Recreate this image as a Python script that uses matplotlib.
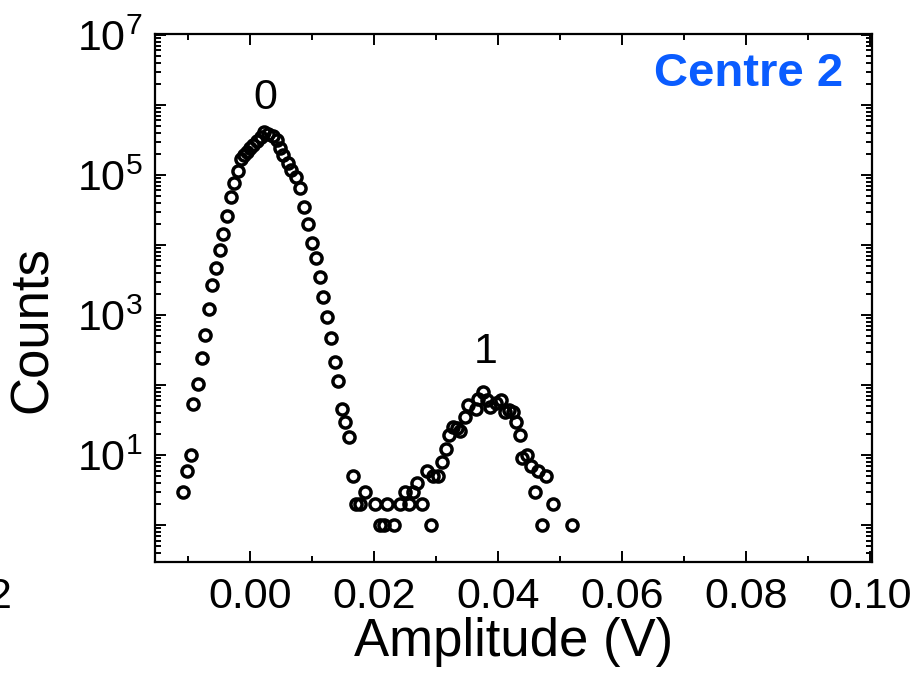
import matplotlib
matplotlib.use("Agg")
import matplotlib.pyplot as plt
import matplotlib.ticker as mticker
import numpy as np

plt.rcParams['font.family'] = ['Liberation Sans', 'DejaVu Sans']
plt.rcParams['mathtext.fontset'] = 'custom'
plt.rcParams['mathtext.rm'] = 'Liberation Sans'
plt.rcParams['mathtext.it'] = 'Liberation Sans'
plt.rcParams['mathtext.bf'] = 'Liberation Sans:bold'

# Data: amplitude (V) and counts
amplitude = [
    -0.0108, -0.0101, -0.0095, -0.0091, -0.0084, -0.0078, -0.0072, -0.0066,
    -0.0061, -0.0054, -0.0048, -0.0043, -0.0037, -0.0031, -0.0025, -0.0019,
    -0.0015, -0.0010, -0.0005, 0.0000, 0.0005, 0.0012, 0.0018, 0.0023,
    0.0029, 0.0038, 0.0043, 0.0048, 0.0054, 0.0061, 0.0067, 0.0074,
    0.0081, 0.0088, 0.0094, 0.0100, 0.0106, 0.0113, 0.0118, 0.0125,
    0.0131, 0.0137, 0.0142, 0.0148, 0.0154, 0.0160, 0.0167,
    0.0171, 0.0177, 0.0185, 0.0202, 0.0210, 0.0216, 0.0221, 0.0232,
    0.0242, 0.0250, 0.0256, 0.0263, 0.0269, 0.0277, 0.0285, 0.0292,
    0.0295, 0.0303, 0.0310, 0.0316, 0.0321, 0.0327, 0.0334, 0.0339,
    0.0347, 0.0351, 0.0365, 0.0368, 0.0376, 0.0383, 0.0387, 0.0397,
    0.0405, 0.0411, 0.0417, 0.0424, 0.0429, 0.0435, 0.0439, 0.0446,
    0.0454, 0.0459, 0.0465, 0.0471, 0.0477, 0.0488, 0.0520,
]
counts = [
    3, 6, 10, 53, 103, 243, 518, 1230,
    2655, 4645, 8480, 14360, 26200, 49000, 76000, 115000,
    167000, 193000, 215000, 240000, 268000, 309000, 352000, 411000,
    385000, 364000, 316000, 240000, 193000, 150000, 118000, 92700,
    64600, 35200, 19900, 10800, 6590, 3460, 1790, 946,
    465, 211, 114, 45, 30, 18, 5,
    2, 2, 3, 2, 1, 1, 2, 1,
    2, 3, 2, 3, 4, 2, 6, 1,
    5, 5, 8, 12, 19, 25, 24, 22,
    35, 52, 46, 64, 79, 61, 49, 55,
    61, 41, 44, 41, 30, 19, 9, 10,
    7, 3, 6, 1, 5, 2, 1,
]

peak_labels = ["0", "1"]
peak_label_x = [0.0025, 0.0380]
peak_label_y = [1.26e6, 3.0e2]

x_ticks = [0.00, 0.02, 0.04, 0.06, 0.08, 0.10]
x_tick_labels = ["0.00", "0.02", "0.04", "0.06", "0.08", "0.10"]
y_major = [1e0, 1e1, 1e2, 1e3, 1e4, 1e5, 1e6, 1e7]

fig = plt.figure(figsize=(9.15, 6.75), dpi=100)
ax = fig.add_axes([155/915, 1-562/675, (872-155)/915, (562-34)/675])

ax.plot(amplitude, counts, linestyle='none', marker='o', markersize=8,
        markerfacecolor='none', markeredgecolor='black', markeredgewidth=2.5)

ax.set_yscale('log')
ax.set_xlim(-0.0153, 0.1003)
ax.set_ylim(0.296, 1.03e7)

ax.xaxis.set_major_locator(mticker.FixedLocator(x_ticks))
ax.xaxis.set_major_formatter(mticker.FixedFormatter(x_tick_labels))
ax.xaxis.set_minor_locator(mticker.MultipleLocator(0.01))

ax.yaxis.set_major_locator(mticker.FixedLocator(y_major))
def yfmt(v, pos):
    e = int(round(np.log10(v)))
    if e % 2 == 1:
        return r'$\mathregular{10^{%d}}$' % e
    return ''
ax.yaxis.set_major_formatter(mticker.FuncFormatter(yfmt))
ax.yaxis.set_minor_locator(mticker.LogLocator(base=10, subs=np.arange(2, 10), numticks=20))
ax.yaxis.set_minor_formatter(mticker.NullFormatter())

for s in ax.spines.values():
    s.set_linewidth(1.6)

ax.tick_params(which='both', direction='in', top=True, right=True, width=1.4,
               labelsize=31)
ax.tick_params(which='major', length=8)
ax.tick_params(which='minor', length=4)
ax.tick_params(axis='x', which='major', pad=11)
ax.tick_params(axis='y', which='major', pad=9)

ax.set_xlabel('Amplitude (V)', fontsize=38, labelpad=0)
fig.text(33/915, 1-330/675, 'Counts', fontsize=38, rotation=90,
         ha='center', va='center')

for lab, lx, ly in zip(peak_labels, peak_label_x, peak_label_y):
    ax.text(lx, ly, lab, fontsize=31, ha='center', va='center')

ax.text(0.96, 0.925, 'Centre 2', transform=ax.transAxes, fontsize=34,
        fontweight='bold', color='#0A5CFF', ha='right', va='center')

fig.text(12/915, 1-608/675, '2', fontsize=31, ha='right', va='baseline')

fig.savefig('out.png', dpi=100)
